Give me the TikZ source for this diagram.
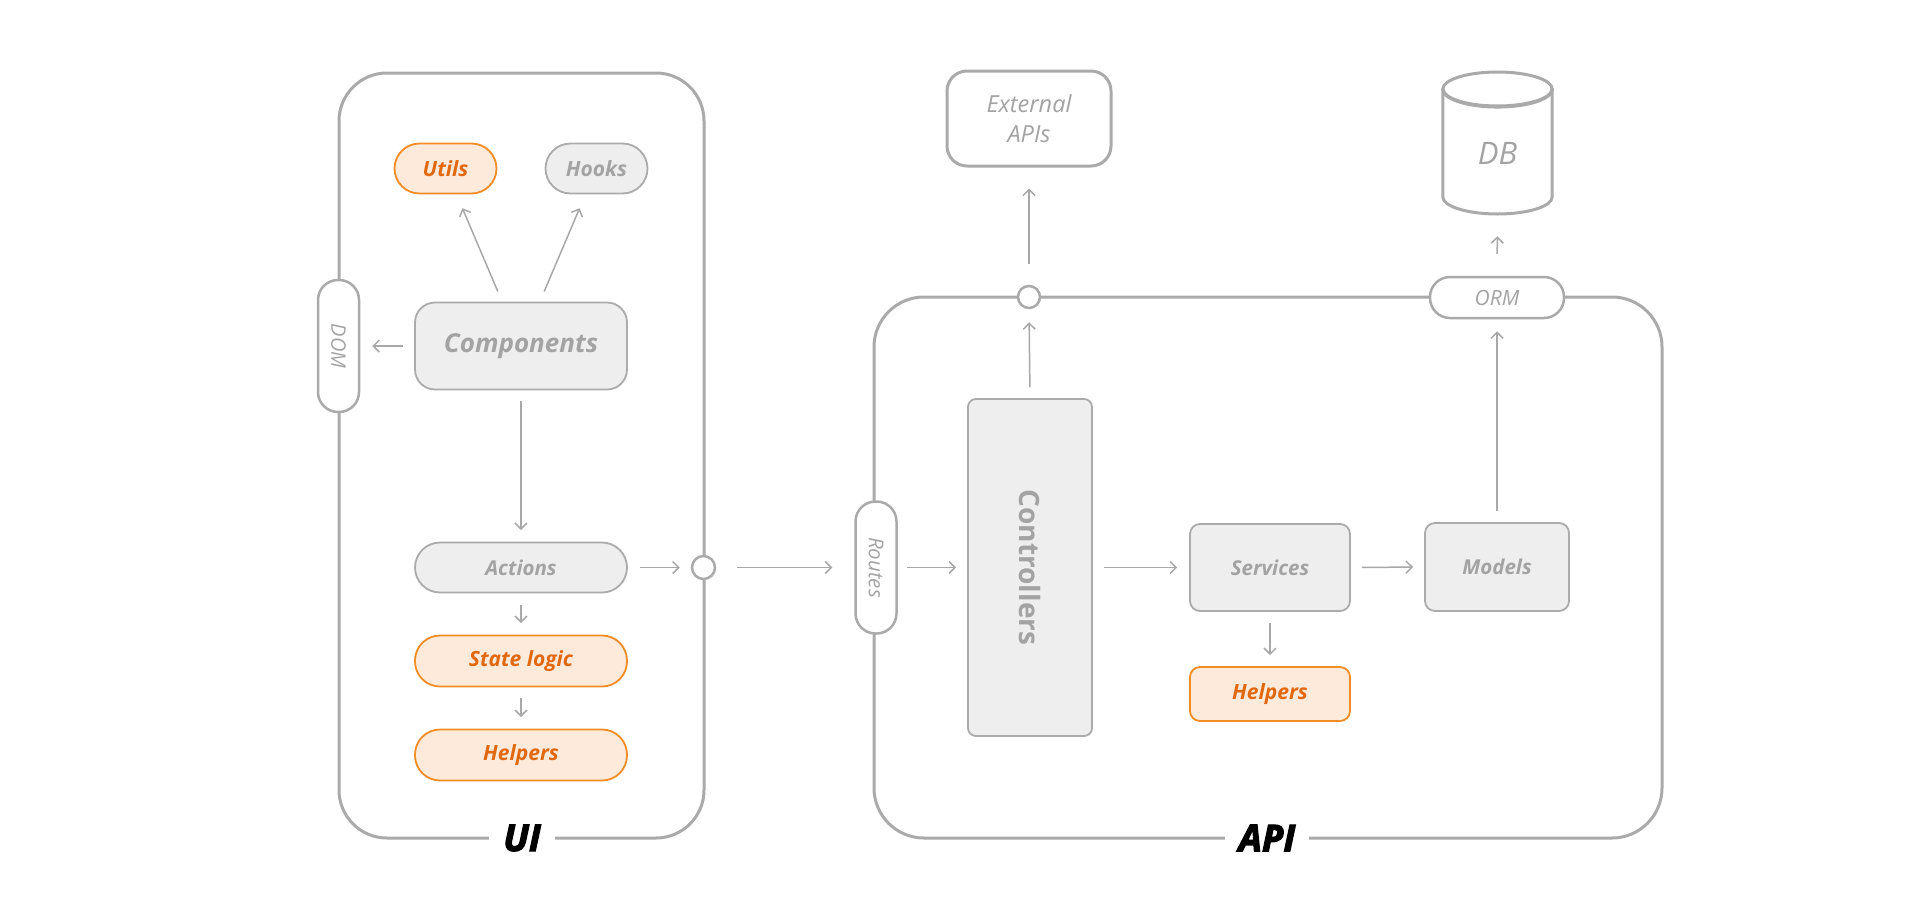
\documentclass[tikz,border=0pt]{standalone}
\usepackage{fontspec}
\setmainfont{Open Sans}
\newfontfamily\heavyfont{Open Sans}[FakeBold=3, BoldItalicFeatures={FakeBold=3}]
\usetikzlibrary{arrows.meta}
\definecolor{cline}{HTML}{AAAAAA}
\definecolor{bline}{HTML}{ABABAB}
\definecolor{bfill}{HTML}{EEEEEE}
\definecolor{tgray}{HTML}{A3A3A3}
\definecolor{aline}{HTML}{A8A8A8}
\definecolor{oline}{HTML}{F28C24}
\definecolor{ofill}{HTML}{FDEADB}
\definecolor{otext}{HTML}{E0680E}
\tikzset{
  container/.style={draw=cline, line width=3pt},
  gbox/.style={draw=bline, fill=bfill, line width=1.8pt, text=tgray, inner sep=0pt, align=center},
  obox/.style={draw=oline, fill=ofill, line width=1.8pt, text=otext, inner sep=0pt, align=center},
  wbox/.style={draw=cline, fill=white, line width=2.5pt, text=tgray, inner sep=0pt, align=center},
  fbold/.style={font=\fontsize{21}{25}\selectfont\bfseries\itshape},
  fmed/.style={font=\fontsize{20.5}{25}\selectfont\bfseries\itshape},
  arr/.style={draw=aline, line width=1.5pt, -{Straight Barb[length=6pt,width=12pt,line width=1.5pt]}},
  lbl/.style={fill=white, text=black, inner xsep=14pt, inner ysep=2pt, font=\fontsize{37}{40}\selectfont\heavyfont\bfseries\itshape}
}
\begin{document}
\begin{tikzpicture}[x=1pt,y=-1pt]
\useasboundingbox[fill=white] (0,0) rectangle (1920,900);

% containers
\draw[container, rounded corners=48pt] (339,73) rectangle (704,838);
\draw[container, rounded corners=50pt] (874,297) rectangle (1662,838);

% UI nodes
\node[obox, fbold, rounded corners=25pt, minimum width=102pt, minimum height=50pt] (utils) at (445.5,168.5) {Utils};
\node[gbox, fbold, rounded corners=25pt, minimum width=102pt, minimum height=50pt] (hooks) at (596.5,168.5) {Hooks};
\node[gbox, rounded corners=20pt, minimum width=212pt, minimum height=87pt, font=\fontsize{26}{30}\selectfont\bfseries\itshape] (comp) at (521,346) {Components};
\node[wbox, rounded corners=20pt, minimum width=41pt, minimum height=132pt] (dom) at (338.5,346) {};
\node[text=tgray, rotate=-90, font=\fontsize{20}{22}\selectfont\itshape] at (dom) {DOM};
\node[gbox, fmed, rounded corners=25pt, minimum width=212pt, minimum height=50pt] (actions) at (521,567.5) {Actions};
\node[obox, fbold, rounded corners=25pt, minimum width=212pt, minimum height=51pt] (state) at (521,661) {State logic};
\node[obox, fbold, rounded corners=25pt, minimum width=212pt, minimum height=51pt] (helpui) at (521,755) {Helpers};
\node[wbox, circle, minimum size=23pt] (uicirc) at (703.5,567.5) {};

% API nodes
\node[wbox, rounded corners=20pt, minimum width=41pt, minimum height=132pt] (routes) at (876,567.5) {};
\node[text=tgray, rotate=-90, font=\fontsize{20.5}{22}\selectfont\itshape] at (routes) {Routes};
\node[gbox, rounded corners=8pt, minimum width=124pt, minimum height=337pt] (ctrl) at (1030,567.5) {};
\node[text=tgray, rotate=-90, font=\fontsize{28}{32}\selectfont\bfseries] at (ctrl) {Controllers};
\node[gbox, fmed, rounded corners=10pt, minimum width=160pt, minimum height=87pt] (services) at (1270,567.5) {Services};
\node[gbox, fmed, rounded corners=10pt, minimum width=144pt, minimum height=88pt] (models) at (1497,567) {Models};
\node[obox, fbold, rounded corners=10pt, minimum width=160pt, minimum height=54pt] (helpapi) at (1270,694) {Helpers};
\node[wbox, circle, minimum size=22pt] (apicirc) at (1029,297) {};
\node[wbox, rounded corners=20pt, minimum width=134pt, minimum height=41pt, font=\fontsize{21}{24}\selectfont\itshape] (orm) at (1497,297.5) {ORM};
\node[wbox, line width=3pt, rounded corners=20pt, minimum width=164pt, minimum height=95pt, font=\fontsize{23.5}{30}\selectfont\itshape] (ext) at (1029,118.5) {External\\APIs};

% DB cylinder
\draw[cline, line width=3pt, fill=white] (1442.8,89) -- (1442.8,197) arc[start angle=180, end angle=360, x radius=54.7pt, y radius=17pt] -- (1552.2,89);
\draw[cline, line width=3pt, fill=white] (1497.5,89) ellipse[x radius=54.7pt, y radius=17pt];
\draw[cline, line width=3.5pt] (1442.8,89) arc[start angle=180, end angle=360, x radius=54.7pt, y radius=17.8pt];
\node[minimum width=109pt, minimum height=143pt, inner sep=0pt] (db) at (1497.5,142.5) {};
\node[text=tgray, font=\fontsize{31}{34}\selectfont\itshape] (dbtext) at (1497.5,153) {DB};

% labels
\node[lbl] (uilbl) at (522,838) {UI};
\node[lbl] (apilbl) at (1267,838) {API};

% arrows UI
\draw[arr, shorten <=11pt, shorten >=15pt] (comp) -- (utils);
\draw[arr, shorten <=11pt, shorten >=15pt] (comp) -- (hooks);
\draw[arr, shorten <=11pt, shorten >=12pt] (comp.west) -- (dom.east);
\draw[arr, shorten <=10.5pt, shorten >=11.5pt] (comp.south) -- (actions.north);
\draw[arr, shorten <=11.5pt, shorten >=11.5pt] (actions.south) -- (state.north);
\draw[arr, shorten <=10.5pt, shorten >=11.5pt] (state.south) -- (helpui.north);
\draw[arr, shorten <=12pt, shorten >=11pt] (actions.east) -- (uicirc.west);
\draw[arr, shorten <=21pt, shorten >=22pt] (uicirc.east) -- (routes.west);

% arrows API
\draw[arr, shorten <=9.5pt, shorten >=11pt] (routes.east) -- (ctrl.west);
\draw[arr, shorten <=11pt, shorten >=12pt] (ctrl.east) -- (services.west);
\draw[arr, shorten <=11pt, shorten >=11pt] (services.east) -- (models.west);
\draw[arr, shorten <=11pt, shorten >=11pt] (services.south) -- (helpapi.north);
\draw[arr, shorten <=11pt, shorten >=12pt] (models.north) -- (orm.south);
\draw[arr, shorten <=11pt, shorten >=13pt] (ctrl.north) -- (apicirc.south);
\draw[arr, shorten <=21pt, shorten >=21pt] (apicirc.north) -- (ext.south);
\draw[arr, shorten <=22pt, shorten >=22pt] (orm.north) -- (db.south);
\end{tikzpicture}
\end{document}
